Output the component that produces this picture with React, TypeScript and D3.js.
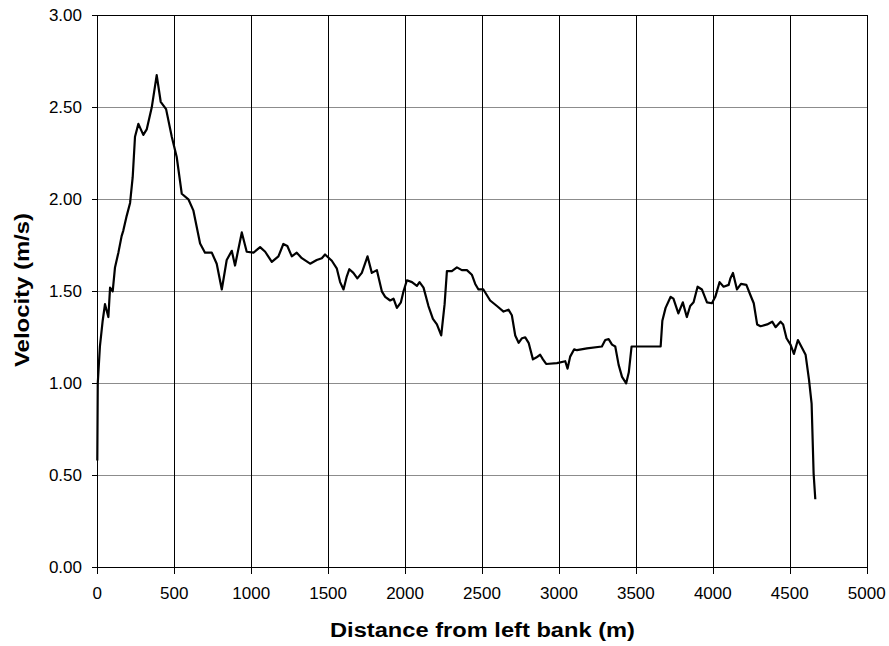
import React from "react";
import * as d3 from "d3";

const distance = [
  0, 3, 17, 35, 50, 72, 83, 100, 115, 137, 158, 169, 191, 213, 230, 245, 267, 299, 321, 354,
  386, 412, 447, 484, 516, 549, 592, 624, 668, 700, 744, 776, 809, 841, 874, 895, 939, 971, 1015, 1058,
  1091, 1134, 1177, 1209, 1235, 1264, 1296, 1329, 1383, 1426, 1459, 1480, 1524, 1556, 1578, 1600, 1621, 1638, 1664, 1690,
  1719, 1756, 1784, 1817, 1849, 1871, 1903, 1925, 1947, 1973, 1990, 2012, 2045, 2077, 2094, 2120, 2152, 2181, 2207, 2235,
  2257, 2272, 2304, 2337, 2369, 2402, 2434, 2456, 2477, 2509, 2553, 2597, 2640, 2672, 2694, 2716, 2738, 2760, 2781, 2803,
  2831, 2852, 2878, 2896, 2917, 2987, 3041, 3056, 3073, 3099, 3117, 3182, 3279, 3301, 3323, 3345, 3366, 3388, 3410, 3437,
  3454, 3472, 3498, 3661, 3672, 3693, 3726, 3744, 3776, 3805, 3831, 3853, 3875, 3901, 3929, 3962, 3994, 4016, 4044, 4070,
  4103, 4114, 4131, 4157, 4183, 4218, 4244, 4266, 4288, 4310, 4353, 4386, 4408, 4440, 4457, 4479, 4505, 4527, 4553, 4581,
  4603, 4625, 4642, 4655, 4666,
];

const velocity = [
  0.58, 1.0, 1.2, 1.34, 1.43, 1.36, 1.52, 1.5, 1.63, 1.71, 1.8, 1.83, 1.91, 1.98, 2.12, 2.34, 2.41, 2.35, 2.38, 2.5,
  2.675, 2.53, 2.49, 2.34, 2.23, 2.03, 2.0, 1.94, 1.76, 1.71, 1.71, 1.65, 1.51, 1.67, 1.72, 1.64, 1.82, 1.715, 1.71, 1.74,
  1.715, 1.66, 1.69, 1.757, 1.746, 1.69, 1.71, 1.68, 1.65, 1.67, 1.68, 1.7, 1.666, 1.625, 1.55, 1.51, 1.58, 1.62, 1.6, 1.57,
  1.6, 1.69, 1.6, 1.615, 1.5, 1.47, 1.45, 1.46, 1.41, 1.44, 1.5, 1.56, 1.55, 1.53, 1.55, 1.52, 1.42, 1.35, 1.32, 1.26,
  1.43, 1.61, 1.61, 1.63, 1.615, 1.615, 1.59, 1.54, 1.51, 1.51, 1.45, 1.42, 1.39, 1.4, 1.37, 1.26, 1.22, 1.245, 1.25, 1.22,
  1.13, 1.14, 1.155, 1.13, 1.105, 1.11, 1.12, 1.08, 1.145, 1.185, 1.18, 1.19, 1.2, 1.235, 1.24, 1.21, 1.2, 1.1, 1.035, 1.0,
  1.06, 1.2, 1.2, 1.2, 1.34, 1.41, 1.47, 1.46, 1.38, 1.44, 1.36, 1.42, 1.44, 1.525, 1.51, 1.44, 1.435, 1.47, 1.55, 1.525,
  1.535, 1.57, 1.6, 1.51, 1.54, 1.535, 1.48, 1.435, 1.32, 1.31, 1.32, 1.335, 1.305, 1.335, 1.32, 1.245, 1.21, 1.16, 1.235, 1.19,
  1.155, 1.02, 0.89, 0.51, 0.37,
];

const xTicks = [0, 500, 1000, 1500, 2000, 2500, 3000, 3500, 4000, 4500, 5000];
const yTicks = [0, 0.5, 1.0, 1.5, 2.0, 2.5, 3.0];

const xTitle = "Distance from left bank (m)";
const yTitle = "Velocity (m/s)";

export default function App() {
  const W = 889;
  const H = 646;
  const x = d3.scaleLinear().domain([0, 5000]).range([97.3, 866.7]);
  const y = d3.scaleLinear().domain([0, 3]).range([567.3, 15.3]);
  const cx = (v: number) => Math.round(x(v)) + 0.5;
  const cy = (v: number) => Math.round(y(v)) + 0.5;

  const pts: [number, number][] = distance.map((d, i) => [d, velocity[i]]);
  const line = d3
    .line<[number, number]>()
    .x((d) => x(d[0]))
    .y((d) => y(d[1]));

  const font = "'Liberation Sans', Arial, Helvetica, sans-serif";
  const left = cx(0);
  const right = cx(5000);
  const top = cy(3);
  const bottom = cy(0);

  return (
    <svg
      width={W}
      height={H}
      style={{ position: "absolute", left: 0, top: 0, display: "block", background: "#fff" }}
    >
      <rect x={0} y={0} width={W} height={H} fill="#fff" />
      {/* horizontal gridlines */}
      {yTicks.map((t) => (
        <line
          key={"hg" + t}
          x1={left}
          x2={right}
          y1={cy(t)}
          y2={cy(t)}
          stroke={t === 3 ? "#000" : "#8c8c8c"}
          strokeWidth={1}
          shapeRendering="crispEdges"
        />
      ))}
      {/* vertical gridlines */}
      {xTicks.map((t) => (
        <line
          key={"vg" + t}
          x1={cx(t)}
          x2={cx(t)}
          y1={top}
          y2={bottom}
          stroke="#000"
          strokeWidth={1}
          shapeRendering="crispEdges"
        />
      ))}
      {/* axes */}
      <line x1={left} x2={left} y1={top} y2={bottom} stroke="#000" shapeRendering="crispEdges" />
      <line x1={left} x2={right} y1={bottom} y2={bottom} stroke="#000" shapeRendering="crispEdges" />
      {/* y ticks & labels */}
      {yTicks.map((t) => (
        <g key={"yt" + t}>
          <line x1={left - 6} x2={left} y1={cy(t)} y2={cy(t)} stroke="#000" shapeRendering="crispEdges" />
          <text
            x={82}
            y={cy(t)}
            dy="0.35em"
            textAnchor="end"
            fontFamily={font}
            fontSize={17}
            fill="#000"
          >
            {t.toFixed(2)}
          </text>
        </g>
      ))}
      {/* x ticks & labels */}
      {xTicks.map((t) => (
        <g key={"xt" + t}>
          <line x1={cx(t)} x2={cx(t)} y1={bottom} y2={bottom + 6} stroke="#000" shapeRendering="crispEdges" />
          <text x={x(t)} y={598.5} textAnchor="middle" fontFamily={font} fontSize={17} fill="#000">
            {t}
          </text>
        </g>
      ))}
      {/* data line */}
      <path d={line(pts) || ""} fill="none" stroke="#000" strokeWidth={2.2} strokeLinejoin="round" />
      {/* titles */}
      <text
        x={482.5}
        y={637}
        textAnchor="middle"
        fontFamily={font}
        fontWeight="bold"
        fontSize={19.5}
        textLength={305}
        lengthAdjust="spacingAndGlyphs"
        fill="#000"
      >
        {xTitle}
      </text>
      <text
        transform={`translate(29,290) rotate(-90)`}
        textAnchor="middle"
        fontFamily={font}
        fontWeight="bold"
        fontSize={19.5}
        textLength={154}
        lengthAdjust="spacingAndGlyphs"
        fill="#000"
      >
        {yTitle}
      </text>
    </svg>
  );
}
